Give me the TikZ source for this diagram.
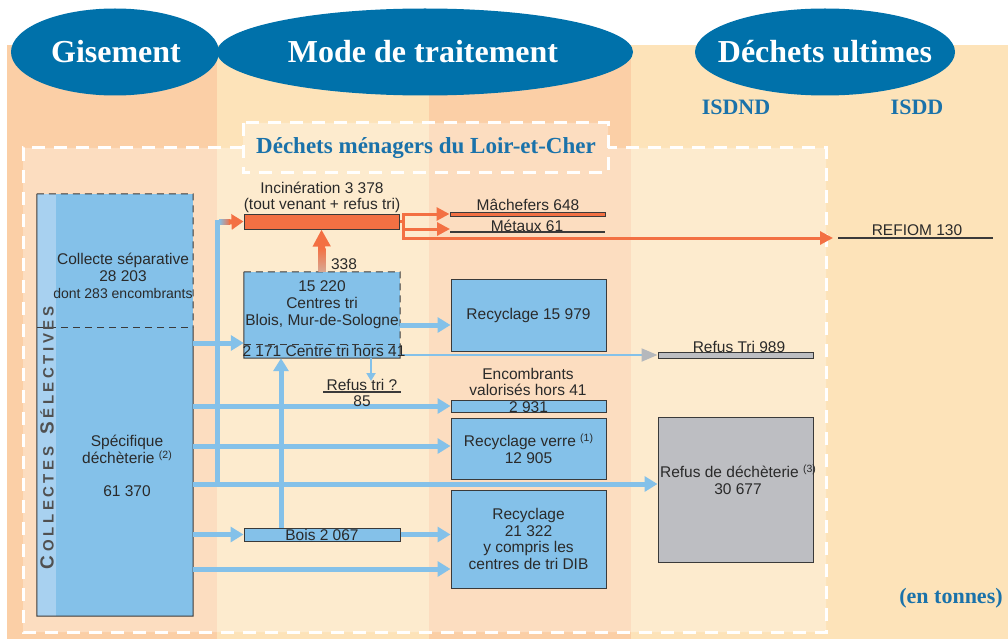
\documentclass[tikz,border=0pt]{standalone}
\usepackage{fontspec}
\setmainfont{Liberation Sans}
\newfontfamily\hdserif{Liberation Serif}
\usetikzlibrary{arrows.meta,shapes.geometric,calc}
\definecolor{peachA}{HTML}{FBCFA6}
\definecolor{peachB}{HTML}{FDE3B9}
\definecolor{hblue}{HTML}{0071AA}
\definecolor{tblue}{HTML}{1A72AA}
\definecolor{bfill}{HTML}{84C1E9}
\definecolor{bstrip}{HTML}{A8D1F0}
\definecolor{bord}{HTML}{3A3A3A}
\definecolor{txt}{HTML}{2A2A2A}
\definecolor{orng}{HTML}{F37043}
\definecolor{opale}{HTML}{D8A893}
\definecolor{gbox}{HTML}{BDBEC2}
\definecolor{garrow}{HTML}{B5B8BC}
\definecolor{cstext}{HTML}{505050}
\newcommand\fLab{\fontsize{15.5}{17}\selectfont}
\newcommand\fSm{\fontsize{14}{16}\selectfont}
\newcommand\fHead{\hdserif\bfseries\fontsize{32}{34}\selectfont}
\newcommand\supn[1]{\raisebox{5pt}{\fontsize{10.5}{10.5}\selectfont(#1)}}
\tikzset{
 bx/.style={fill=bfill, inner sep=0pt, draw=bord, line width=1pt},
 bxfill/.style={fill=bfill, inner sep=0pt},
 lbl/.style={text=txt, font=\fLab, align=center, inner sep=0pt},
 bline/.style={draw=bfill, line width=5pt},
 barrow/.style={bline, -{Triangle[length=13pt,width=15pt]}},
 thinb/.style={draw=bfill, line width=2pt},
 oline/.style={draw=orng, line width=3pt},
 oarrow/.style={oline, -{Triangle[length=13pt,width=13pt]}},
 hdtext/.style={text=white, font=\fHead, inner sep=0pt},
 bdash/.style={draw=bord, line width=1pt, dash pattern=on 7pt off 5pt},
 wdash/.style={draw=white, line width=3pt, dash pattern=on 13pt off 9pt},
 subhd/.style={text=tblue, font=\hdserif\bfseries\fontsize{22}{24}\selectfont, inner sep=0pt},
}
\begin{document}
\begin{tikzpicture}[x=1pt,y=-1pt]
\useasboundingbox (0,0) rectangle (1008,639);
% background columns
\fill[white] (0,0) rectangle (1008,639);
\fill[peachA] (7,45) rectangle (217,639);
\fill[peachB] (217,45) rectangle (429,639);
\fill[peachA] (429,45) rectangle (631,639);
\fill[peachB] (631,45) rectangle (1008,639);
\fill[white, opacity=0.3] (23,148) rectangle (826,632) (243,123) rectangle (608,173);
% dashed frames
\draw[wdash] (243,148) -- (23,148) -- (23,632) -- (826,632) -- (826,148) -- (608,148);
\draw[wdash] (243,123) rectangle (608,173);
\node[text=tblue, font=\hdserif\bfseries\fontsize{23}{25}\selectfont, inner sep=0pt] (title) at (426,148) {Déchets ménagers du Loir-et-Cher};
% headers
\fill[hblue] (115,52) ellipse [x radius=104, y radius=43.5];
\fill[hblue] (425,52) ellipse [x radius=208, y radius=43.5];
\fill[hblue] (825,52) ellipse [x radius=130, y radius=43.5];
\node[hdtext] (hg) at (116,52) {Gisement};
\node[hdtext] (hm) at (423,52) {Mode de traitement};
\node[hdtext] (hd) at (825,52) {Déchets ultimes};
\node[subhd] (isdnd) at (736,107) {ISDND};
\node[subhd] (isdd) at (917,107) {ISDD};
\node[subhd] (unit) at (951,598) {(en tonnes)};
% coordinates
\coordinate (L229) at (0,229);
\coordinate (L325) at (0,325);
\coordinate (L343) at (0,343);
\coordinate (L381) at (0,381);
\coordinate (L446) at (0,446);
\coordinate (L569) at (0,569);
\coordinate (X281) at (281,0);
\coordinate (X371) at (371,0);
\coordinate (j1) at (217,484);
\coordinate (j2) at (217,222);
\coordinate (j3) at (219,222);
\coordinate (j4) at (229,222);
\coordinate (ob1) at (403,214);
\coordinate (ob2) at (403,238);
\coordinate (met1) at (450,232);
\coordinate (met2) at (605,232);
\coordinate (ref1) at (838,238);
\coordinate (ref2) at (993,238);
\coordinate (reftip) at (833,238);
% boxes
\node[bxfill, minimum width=156pt, minimum height=422pt] (gis) at (115,405) {};
\fill[bstrip] (gis.north west) rectangle ($(gis.south west)+(19,0)$);
\coordinate (gdl) at (37,327);
\coordinate (gdr) at (193,327);
\draw[bord, line width=1pt] (gis.north west) -- (gis.south west) -- (gis.south east) -- (gdr);
\draw[bdash] (gis.north west) -- (gis.north east) -- (gdr);
\draw[bdash] (gdl) -- (gdr);
\node[bx, fill=orng, minimum width=155pt, minimum height=15pt] (inc) at (321.5,221.5) {};
\node[bxfill, minimum width=156pt, minimum height=86pt] (ct) at (322,315) {};
\coordinate (cdl) at (244,344);
\coordinate (cdr) at (400,344);
\draw[bord, line width=1pt] (ct.north west) -- (ct.south west) -- (ct.south east) -- (cdr);
\draw[bdash] (ct.north west) -- (ct.north east) -- (cdr);
\draw[bdash] (cdl) -- (cdr);
\node[bx, minimum width=155pt, minimum height=72pt] (rec1) at (528.5,315) {};
\node[bx, minimum width=155pt, minimum height=12pt] (enc) at (528.5,406) {};
\node[bx, minimum width=155pt, minimum height=61pt] (verre) at (528.5,448.5) {};
\node[bx, minimum width=155pt, minimum height=98pt] (rec2) at (528.5,539) {};
\node[bx, minimum width=156pt, minimum height=13pt] (bois) at (322,534.5) {};
\node[bx, fill=gbox, minimum width=155pt, minimum height=145pt] (refd) at (735.5,489.5) {};
\node[bx, fill=orng, minimum width=155pt, minimum height=4pt] (mach) at (527.5,214) {};
\node[bx, fill=gbox, minimum width=155pt, minimum height=6pt] (rtri) at (735.5,355) {};
\draw[bord, line width=2pt] (met1) -- (met2);
\draw[bord, line width=2.5pt] (ref1) -- (ref2);
% blue connectors
\draw[barrow] (gis.east |- L343) -- (ct.west |- L343);
\draw[bline] (j1) -- (j2) -- (j3);
\shade[left color=bfill, right color=orng] (219,219.5) rectangle (230,224.5);
\draw[draw=orng, line width=5pt, -{Triangle[length=12pt,width=15pt]}] (j4) -- (inc.west);
\draw[barrow] (gis.east |- enc.west) -- (enc.west);
\draw[barrow] (gis.east |- L446) -- (verre.west |- L446);
\draw[barrow] (gis.east |- j1) -- (refd.west |- j1);
\draw[barrow] (gis.east |- bois.west) -- (bois.west);
\draw[barrow] (bois.east) -- (rec2.west |- bois.east);
\draw[barrow] (gis.east |- L569) -- (rec2.west |- L569);
\draw[barrow] (bois.north -| X281) -- (ct.south -| X281);
\draw[barrow] (ct.east |- L325) -- (rec1.west |- L325);
\draw[thinb, -{Triangle[length=16pt,width=13pt,color=garrow]}] (ct.east |- rtri.west) -- (rtri.west);
\draw[thinb, -{Triangle[length=8pt,width=9pt]}] (ct.south -| X371) -- (X371 |- L381);
% orange connectors
\draw[draw=orng, line width=7pt, -{Triangle[length=17pt,width=17pt]}] (ct.north) -- (inc.south);
\shade[bottom color=opale, top color=orng] (318.5,271.5) rectangle (325.5,248);
\draw[oline] (inc.east) -- (inc.east -| ob1);
\draw[oline, line cap=rect] (ob1) -- (ob2);
\draw[oarrow] (ob1) -- (mach.west);
\draw[oarrow] (ob1 |- L229) -- (met1 |- L229);
\draw[oarrow] (ob2) -- (reftip);
% labels
\node[lbl, font=\fontsize{15.5}{15.5}\selectfont] (tinc) at (322,197.5) {Incinération 3 378\\(tout venant + refus tri)};
\node[lbl] (t338) at (344,264) {338};
\node[lbl] (tmach) at (528,205) {Mâchefers 648};
\node[lbl] (tmet) at (527,226) {Métaux 61};
\node[lbl] (tref) at (917,230) {REFIOM 130};
\node[lbl] (trt) at (739,347) {Refus Tri 989};
\node[lbl] (trq) at (362,385) {Refus tri ?};
\coordinate (u1) at (323,392);
\coordinate (u2) at (401,392);
\draw[bord, line width=1.5pt] (u1) -- (u2);
\node[lbl] (t85) at (362,401) {85};
\node[lbl, font=\fontsize{15.5}{16}\selectfont] (tenc) at (528,382) {Encombrants\\valorisés hors 41};
\node[lbl] (tenc2) at (528.5,407) {2 931};
\node[lbl] (tct) at (322,305) {15 220\\Centres tri\\Blois, Mur-de-Sologne};
\node[lbl] (tct2) at (324,351) {2 171 Centre tri hors 41};
\node[lbl] (trec1) at (rec1) {Recyclage 15 979};
\node[lbl] (tverre) at (verre) {Recyclage verre \supn{1}\\12 905};
\node[lbl, font=\fontsize{15.5}{16.5}\selectfont] (trec2) at (rec2.center) {Recyclage\\21 322\\y compris les\\centres de tri DIB};
\node[lbl] (tbois) at (bois) {Bois 2 067};
\node[lbl] (trefd) at (738,479.5) {Refus de déchèterie \supn{3}\\30 677};
\node[lbl] (tcol) at (123,276) {Collecte séparative\\28 203\\{\fSm dont 283 encombrants}};
\node[lbl] (tspe) at (127,466) {Spécifique\\déchèterie \supn{2}\\[16pt]61 370};
\node[rotate=90, text=cstext, inner sep=0pt] (cs) at (47,438)
 {\bfseries{\fontsize{19}{19}\selectfont C}\kern4pt{\fontsize{15}{15}\selectfont O\kern3.5pt L\kern3.5pt L\kern3.5pt E\kern3.5pt C\kern3.5pt T\kern3.5pt E\kern3.5pt S}\kern12pt{\fontsize{19}{19}\selectfont S}\kern4pt{\fontsize{15}{15}\selectfont É\kern3.5pt L\kern3.5pt E\kern3.5pt C\kern3.5pt T\kern3.5pt I\kern3.5pt V\kern3.5pt E\kern3.5pt S}};
\end{tikzpicture}
\end{document}
